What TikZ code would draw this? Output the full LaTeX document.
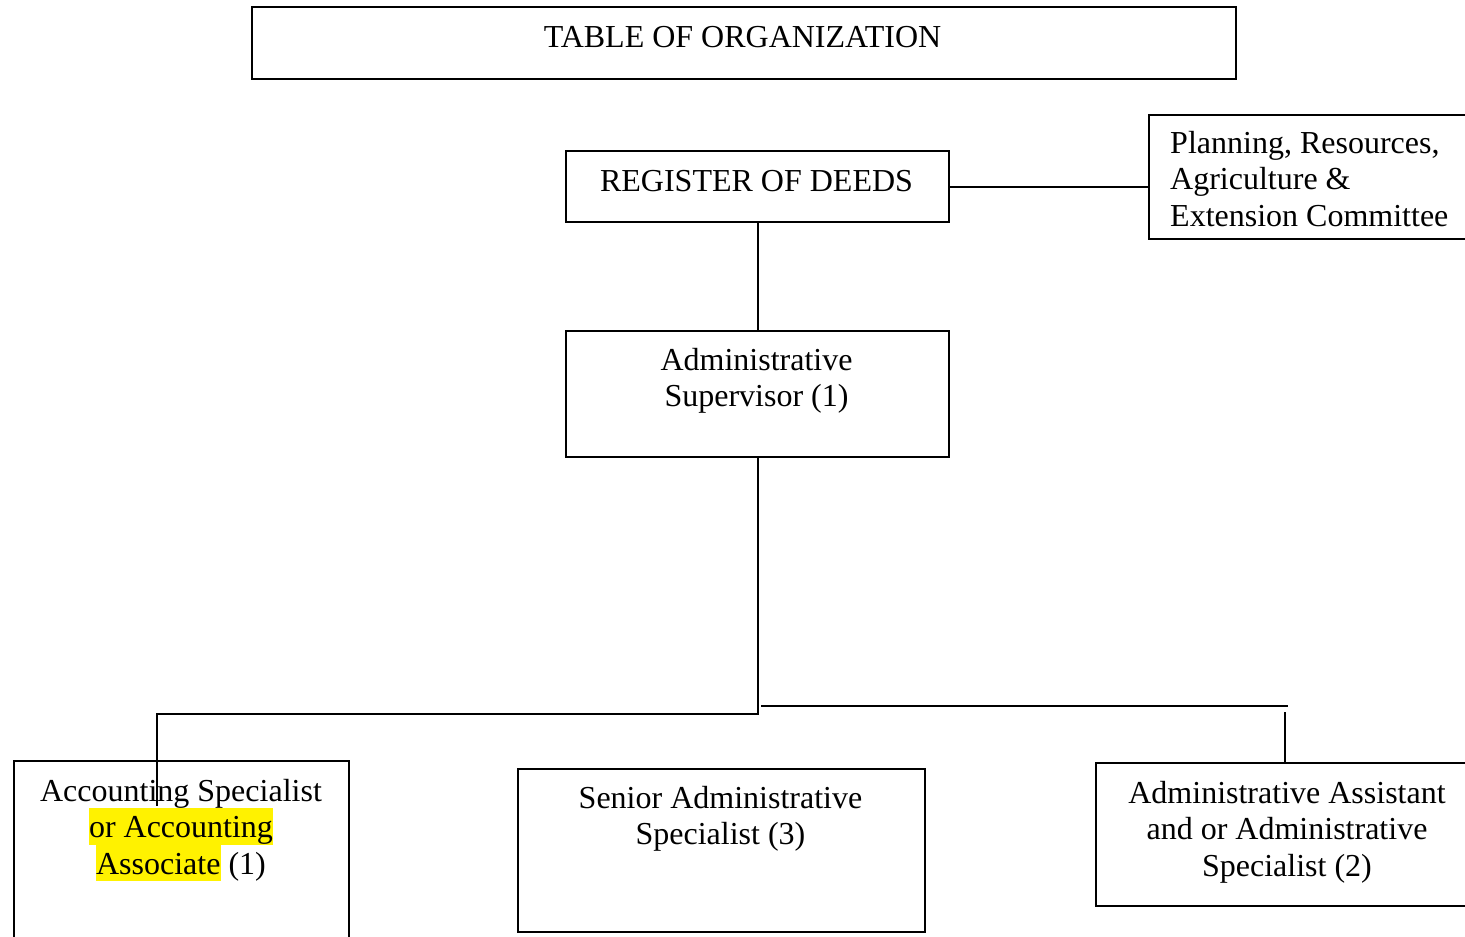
\documentclass[tikz,border=0pt]{standalone}
\usepackage{fontspec}
\setmainfont{Liberation Serif}
\usepackage{xcolor}
\newcommand{\hlt}[1]{{\setlength{\fboxsep}{0pt}\colorbox{yellow}{\rule[-7pt]{0pt}{37pt}#1}}}
\newcommand{\lblfont}{\fontsize{32}{36.5}\selectfont\setlength{\lineskiplimit}{-60pt}}
\begin{document}
\begin{tikzpicture}[x=1pt,y=-1pt,
  box/.style={draw=black, line width=2pt, inner sep=0pt, anchor=north west},
  lbl/.style={font=\lblfont, align=center, inner sep=0pt, anchor=base},
  link/.style={draw=black, line width=2pt}]
\clip (0,0) rectangle (1465,937);
\fill[white] (0,0) rectangle (1465,937);
% boxes
\node[box, minimum width=984pt, minimum height=72pt] (title) at (251,6) {};
\node[box, minimum width=383pt, minimum height=71pt] (reg) at (565,150) {};
\node[box, minimum width=340pt, minimum height=124pt] (plan) at (1148,114) {};
\node[box, minimum width=383pt, minimum height=126pt] (sup) at (565,330) {};
\node[box, minimum width=335pt, minimum height=200pt] (acc) at (13,760) {};
\node[box, minimum width=407pt, minimum height=163pt] (sen) at (517,768) {};
\node[box, minimum width=384pt, minimum height=143pt] (asst) at (1095,762) {};
% texts (anchor base = baseline of the last line)
\node[lbl] (titlet) at (742.5,47) {TABLE OF ORGANIZATION};
\node[lbl] (regt) at (756.5,191) {REGISTER OF DEEDS};
\node[lbl, align=left, anchor=base west] (plant) at (1170,226) {Planning, Resources,\\Agriculture \&\\Extension Committee};
\node[lbl] (supt) at (756.5,406.5) {Administrative\\Supervisor (1)};
\node[lbl] (acct) at (181,874) {Accounting Specialist\\\hlt{or Accounting}\\\hlt{Associate} (1)};
\node[lbl] (sent) at (720.5,844.5) {Senior Administrative\\Specialist (3)};
\node[lbl] (asstt) at (1287,876) {Administrative Assistant\\and or Administrative\\Specialist (2)};
% connectors
\coordinate (acctick) at (157,806);
\coordinate (r1) at (761,706);
\coordinate (r2) at (1288,706);
\coordinate (r3) at (1285,712);
\draw[link] (reg.east) -- (reg.east -| plan.west);
\draw[link] (reg.south) -- (sup.north);
\draw[link] (sup.south) -- ++(0,256) -| (acctick);
\draw[link] (r1) -- (r2);
\draw[link] (r3) -- (r3 |- asst.north);
\end{tikzpicture}
\end{document}
